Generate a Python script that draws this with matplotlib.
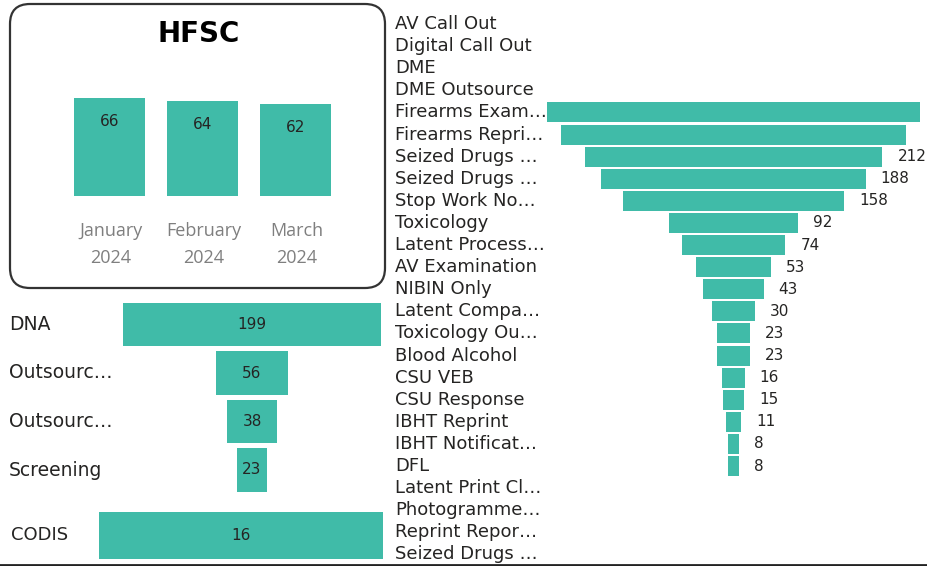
import numpy as np
import matplotlib
matplotlib.use("Agg")
import matplotlib.pyplot as plt
from matplotlib.patches import FancyBboxPatch
from matplotlib.lines import Line2D
import matplotlib.transforms as mtransforms

# datos
meses = ["January 2024", "February 2024", "March 2024"]
hfsc = [66, 64, 62]

dna_cats = ["DNA", "Outsourc…", "Outsourc…", "Screening"]
dna_vals = [199, 56, 38, 23]

codis_cat = "CODIS"
codis_val = 16

cats = ["AV Call Out", "Digital Call Out", "DME", "DME Outsource",
        "Firearms Exam…", "Firearms Repri…", "Seized Drugs …", "Seized Drugs …",
        "Stop Work No…", "Toxicology", "Latent Process…", "AV Examination",
        "NIBIN Only", "Latent Compa…", "Toxicology Ou…", "Blood Alcohol",
        "CSU VEB", "CSU Response", "IBHT Reprint", "IBHT Notificat…", "DFL",
        "Latent Print Cl…", "Photogramme…", "Reprint Repor…", "Seized Drugs …"]
vals = [None, None, None, None, 266, 246, 212, 188, 158, 92, 74, 53, 43, 30,
        23, 23, 16, 15, 11, 8, 8, None, None, None, None]

W, H = 927, 566
verde = "#40BBA8"
texto = "#252423"
fuente = "DejaVu Sans"

fig = plt.figure(figsize=(W / 100, H / 100), dpi=100)
fig.patch.set_facecolor("white")

def ejes(x0, y0, x1, y1):
    # ejes a partir de pixeles (origen arriba a la izquierda)
    a = fig.add_axes([x0 / W, 1 - y1 / H, (x1 - x0) / W, (y1 - y0) / H])
    a.set_axis_off()
    return a

# caja redondeada del panel HFSC
caja = FancyBboxPatch((10, H - 288), 375, 284,
                      boxstyle="round,pad=0,rounding_size=20",
                      transform=mtransforms.IdentityTransform(),
                      facecolor="none", edgecolor="#333333", linewidth=1.6,
                      zorder=-1)
fig.add_artist(caja)
fig.text(199 / W, 1 - 34 / H, "HFSC", ha="center", va="center",
         fontsize=20, fontweight="bold", family=fuente, color="black")

# columnas HFSC
ax1 = ejes(63, 60, 342, 195.7)
x = np.arange(len(hfsc))
ax1.bar(x, hfsc, width=0.763, color=verde)
ax1.set_xlim(-0.5, 2.5)
ax1.set_ylim(0, 92)
for i, v in enumerate(hfsc):
    ax1.annotate(str(v), (i, v), xytext=(0, -17), textcoords="offset points",
                 ha="center", va="center", fontsize=11, family=fuente, color=texto)
    ax1.annotate(meses[i].replace(" ", "\n"), (i, 0), xytext=(1, -35),
                 textcoords="offset points", ha="center", va="center",
                 fontsize=13, family="Open Sans", color="#7f7f7f", linespacing=1.65,
                 annotation_clip=False)

# embudo DNA
ax2 = ejes(0, 300.25, 385, 494.25)
d = np.array(dna_vals, dtype=float)
yy = np.arange(len(d))
ax2.barh(yy, d, left=-d / 2, height=0.907, color=verde)
ax2.set_xlim(-252 / 1.30, (385 - 252) / 1.30)
ax2.set_ylim(len(d) - 0.5, -0.5)
tr2 = mtransforms.blended_transform_factory(ax2.transAxes, ax2.transData)
for i, (c, v) in enumerate(zip(dna_cats, dna_vals)):
    ax2.text(9 / 385, i, c, transform=tr2, ha="left", va="center",
             fontsize=13.5, family=fuente, color=texto)
    ax2.text(0, i, str(v), ha="center", va="center", fontsize=11,
             family=fuente, color=texto)

# CODIS
ax3 = ejes(0, 511.7, 385, 559)
ax3.barh([0], [codis_val], left=[-codis_val / 2], height=1.0, color=verde)
esc = 284.6 / codis_val
ax3.set_xlim(-241 / esc, (385 - 241) / esc)
ax3.set_ylim(0.5, -0.5)
ax3.text(11 / 385, 0, codis_cat, transform=mtransforms.blended_transform_factory(ax3.transAxes, ax3.transData),
         ha="left", va="center", fontsize=13, family=fuente, color=texto)
ax3.text(0, 0, str(codis_val), ha="center", va="center", fontsize=11,
         family=fuente, color=texto)

# embudo grande
ax4 = ejes(395, 13, 927, 565.5)
v = np.array([0 if a is None else a for a in vals], dtype=float)
yy = np.arange(len(cats))
ax4.barh(yy, v, left=-v / 2, height=0.905, color=verde)
esc4 = 1.405
ax4.set_xlim(-(733.5 - 395) / esc4, (927 - 733.5) / esc4)
ax4.set_ylim(len(cats) - 0.5, -0.5)
tr4 = mtransforms.blended_transform_factory(ax4.transAxes, ax4.transData)
for i, c in enumerate(cats):
    ax4.text(0, i, c, transform=tr4, ha="left", va="center",
             fontsize=13, family=fuente, color=texto)
    # power bi oculta las etiquetas que no caben
    if vals[i] is not None and 733.5 + vals[i] / 2 * esc4 + 15 < 905:
        ax4.annotate(str(vals[i]), (vals[i] / 2, i), xytext=(10.8, 0),
                     textcoords="offset points", ha="left", va="center",
                     fontsize=11, family=fuente, color=texto)

# linea inferior
fig.add_artist(Line2D([0, 1], [1 - 565 / H, 1 - 565 / H], transform=fig.transFigure,
                      color="#222222", linewidth=2))

fig.savefig("out.png", dpi=100)
